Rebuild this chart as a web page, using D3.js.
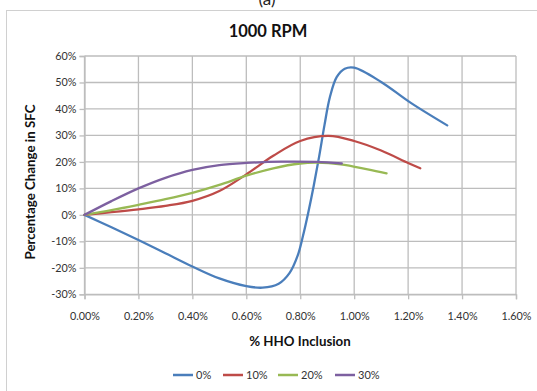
<!DOCTYPE html>
<html>
<head>
<meta charset="utf-8">
<script src="https://cdn.jsdelivr.net/npm/d3@7"></script>
<style>
  html, body { margin: 0; padding: 0; background: #fff; }
  svg { display: block; font-family: Lato, "Liberation Sans", sans-serif; }
</style>
</head>
<body>
<svg id="chart" width="537" height="391"></svg>
<script>
// HHO inclusion (%) vs percentage change in SFC at 1000 RPM
const seriesNames = ["0%", "10%", "20%", "30%"];
const seriesColors = ["#4a7ebb", "#be4b48", "#98b954", "#7d60a0"];

const s0 = [[0, 0], [0.1, -4.7], [0.2, -9.5], [0.3, -14.5], [0.4, -19.5], [0.5, -24.0],
            [0.6, -26.9], [0.66, -27.5], [0.72, -26], [0.76, -22], [0.79, -15.5],
            [0.81, -8], [0.83, 1], [0.85, 11], [0.87, 22], [0.89, 34], [0.91, 44.5],
            [0.935, 52], [0.965, 55.2], [1.0, 55.6], [1.1, 50.2], [1.21, 42.3], [1.345, 33.8]];
const s10 = [[0, 0], [0.1, 1.0], [0.2, 2.1], [0.3, 3.4], [0.4, 5.3], [0.5, 9.0], [0.6, 15.3],
             [0.7, 22.3], [0.8, 27.9], [0.905, 29.8], [1.0, 27.9], [1.1, 24.3], [1.2, 19.6],
             [1.245, 17.6]];
const s20 = [[0, 0], [0.1, 1.8], [0.2, 3.8], [0.3, 5.9], [0.4, 8.3], [0.5, 11.3], [0.6, 14.8],
             [0.7, 17.6], [0.8, 19.4], [0.86, 19.7], [0.95, 19.1], [1.05, 17.2], [1.12, 15.7]];
const s30 = [[0, 0], [0.1, 5.2], [0.2, 10.0], [0.3, 14.0], [0.4, 17.0], [0.5, 18.8],
             [0.6, 19.6], [0.73, 20.1], [0.86, 20.0], [0.954, 19.4]];
const allSeries = [s0, s10, s20, s30];

const xTicks = [0, 0.2, 0.4, 0.6, 0.8, 1.0, 1.2, 1.4, 1.6];
const yTicks = [-30, -20, -10, 0, 10, 20, 30, 40, 50, 60];

const svg = d3.select("#chart");
const grid = "#bdbdbd";

// outer chart frame
svg.append("rect").attr("x", 6.5).attr("y", 10.5).attr("width", 600).attr("height", 500)
  .attr("fill", "none").attr("stroke", "#d0d0d0").attr("stroke-width", 1);

// caption above the frame
svg.append("text").attr("x", 267).attr("y", 5).attr("text-anchor", "middle")
  .attr("font-size", 17).attr("fill", "#222").text("(a)");

const m = { left: 84.5, right: 516, top: 56, bottom: 294.3 };
const x = d3.scaleLinear().domain([0, 1.6]).range([m.left, m.right]);
const y = d3.scaleLinear().domain([-30, 60]).range([m.bottom, m.top]);

// gridlines
svg.append("g").selectAll("line").data(yTicks).join("line")
  .attr("x1", m.left).attr("x2", m.right)
  .attr("y1", d => y(d)).attr("y2", d => y(d))
  .attr("stroke", grid).attr("stroke-width", 1.3);
svg.append("g").selectAll("line").data(xTicks).join("line")
  .attr("y1", m.top).attr("y2", m.bottom)
  .attr("x1", d => x(d)).attr("x2", d => x(d))
  .attr("stroke", grid).attr("stroke-width", 1.3);

// axes
const yAxis = d3.axisLeft(y).tickValues(yTicks).tickSize(5).tickFormat(d => d + "%");
const xAxis = d3.axisBottom(x).tickValues(xTicks).tickSize(5).tickFormat(d => d.toFixed(2) + "%");
const gy = svg.append("g").attr("transform", `translate(${m.left},0)`).call(yAxis);
const gx = svg.append("g").attr("transform", `translate(0,${m.bottom})`).call(xAxis);
[gy, gx].forEach(g => {
  g.select(".domain").attr("stroke", grid).attr("stroke-width", 1.3);
  g.selectAll(".tick line").attr("stroke", grid).attr("stroke-width", 1.3);
  g.selectAll(".tick text").attr("font-size", 10.8).attr("fill", "#333")
    .attr("font-family", "Lato, 'Liberation Sans', sans-serif");
});
gy.selectAll(".tick text").attr("x", -8);
gx.selectAll(".tick text").attr("y", 18);

// series lines
const line = d3.line().x(d => x(d[0])).y(d => y(d[1])).curve(d3.curveCatmullRom.alpha(0.5));
allSeries.forEach((s, i) => {
  svg.append("path").datum(s).attr("d", line).attr("fill", "none")
    .attr("stroke", seriesColors[i]).attr("stroke-width", 2.3)
    .attr("stroke-linecap", "round");
});

// titles
svg.append("text").attr("x", 268).attr("y", 37).attr("text-anchor", "middle")
  .attr("font-size", 16.5).attr("font-weight", "bold").attr("fill", "#111").text("1000 RPM");
svg.append("text").attr("x", 300).attr("y", 346).attr("text-anchor", "middle")
  .attr("font-size", 13.3).attr("font-weight", "bold").attr("fill", "#111").text("% HHO Inclusion");
svg.append("text").attr("transform", "translate(35,182) rotate(-90)").attr("text-anchor", "middle")
  .attr("font-size", 13.3).attr("font-weight", "bold").attr("fill", "#111").text("Percentage Change in SFC");

// legend
const legendX = [173, 223, 278, 335];
const lg = svg.append("g");
seriesNames.forEach((n, i) => {
  lg.append("line").attr("x1", legendX[i]).attr("x2", legendX[i] + 20)
    .attr("y1", 375).attr("y2", 375)
    .attr("stroke", seriesColors[i]).attr("stroke-width", 2.5);
  lg.append("text").attr("x", legendX[i] + 23).attr("y", 379)
    .attr("font-size", 11).attr("fill", "#333").text(n);
});
</script>
</body>
</html>
